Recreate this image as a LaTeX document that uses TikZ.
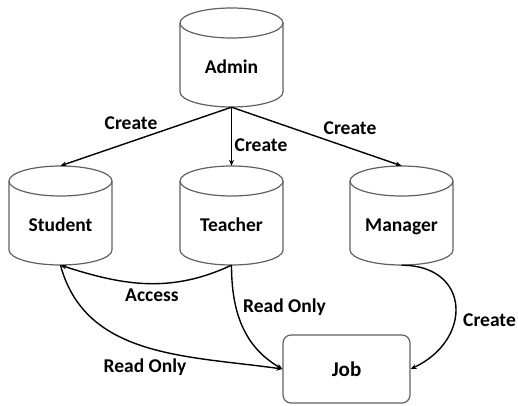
\documentclass[tikz,border=0pt]{standalone}
\usepackage{fontspec}
\setmainfont{Carlito}
\usetikzlibrary{arrows.meta}
\tikzset{
  cylline/.style={draw=black!62, line width=1.2pt},
  cylbox/.style={inner sep=0pt, minimum width=103pt, minimum height=99pt},
  lbl/.style={font=\fontsize{19.5}{22}\selectfont\bfseries, inner sep=1pt},
  cyllbl/.style={lbl, text height=1.45ex, text depth=0.45ex},
  jobbox/.style={draw=black!62, line width=1.2pt, rounded corners=8pt, minimum width=127pt, minimum height=68pt, font=\fontsize{21}{24}\selectfont\bfseries},
  conn/.style={draw=black, line width=1.4pt, -{Stealth[length=6pt,width=5pt]}},
}
\newcommand\mycyl[4]{%
  \node[cylbox] (#1) at (#2,#3-49.5) {};
  \draw[cylline, fill=white] (#2-51.5,#3-15) -- (#2-51.5,#3-84)
     arc[start angle=180,end angle=360,x radius=51.5pt,y radius=15pt] -- (#2+51.5,#3-15);
  \draw[cylline] (#2,#3-15) ellipse[x radius=51.5pt,y radius=15pt];
  \node[cyllbl] (#1-t) at (#2,#3-63) {#4};
}
\begin{document}
\begin{tikzpicture}[x=1pt,y=1pt]
\useasboundingbox (0,0) rectangle (518,405);
\mycyl{admin}{231.5}{397}{Admin}
\mycyl{student}{60.5}{239}{Student}
\mycyl{teacher}{231.5}{239}{Teacher}
\mycyl{manager}{401.5}{239}{Manager}
\node[jobbox] (job) at (346.5,36) {Job};

\draw[conn] (admin.south) -- (student.north);
\draw[conn] (admin.south) -- (teacher.north);
\draw[conn] (admin.south) -- (manager.north);
\node[lbl] at (131,282) {Create};
\node[lbl] at (261,260) {Create};
\node[lbl] at (350,277) {Create};

\draw[conn] (teacher.south) to[out=-155,in=-18] (student.south);
\node[lbl] at (152,110) {Access};

\draw[conn] (teacher.south) to[out=-90,in=150] (job.west);
\node[lbl, anchor=west] at (242,98) {Read Only};

\draw[conn] (student.south) to[out=-75,in=172] (job.west);
\node[lbl] at (145,38) {Read Only};

\draw[conn] (manager.south) to[out=0,in=25,looseness=1.7] (job.east);
\node[lbl, anchor=west] at (462,85) {Create};
\end{tikzpicture}
\end{document}
